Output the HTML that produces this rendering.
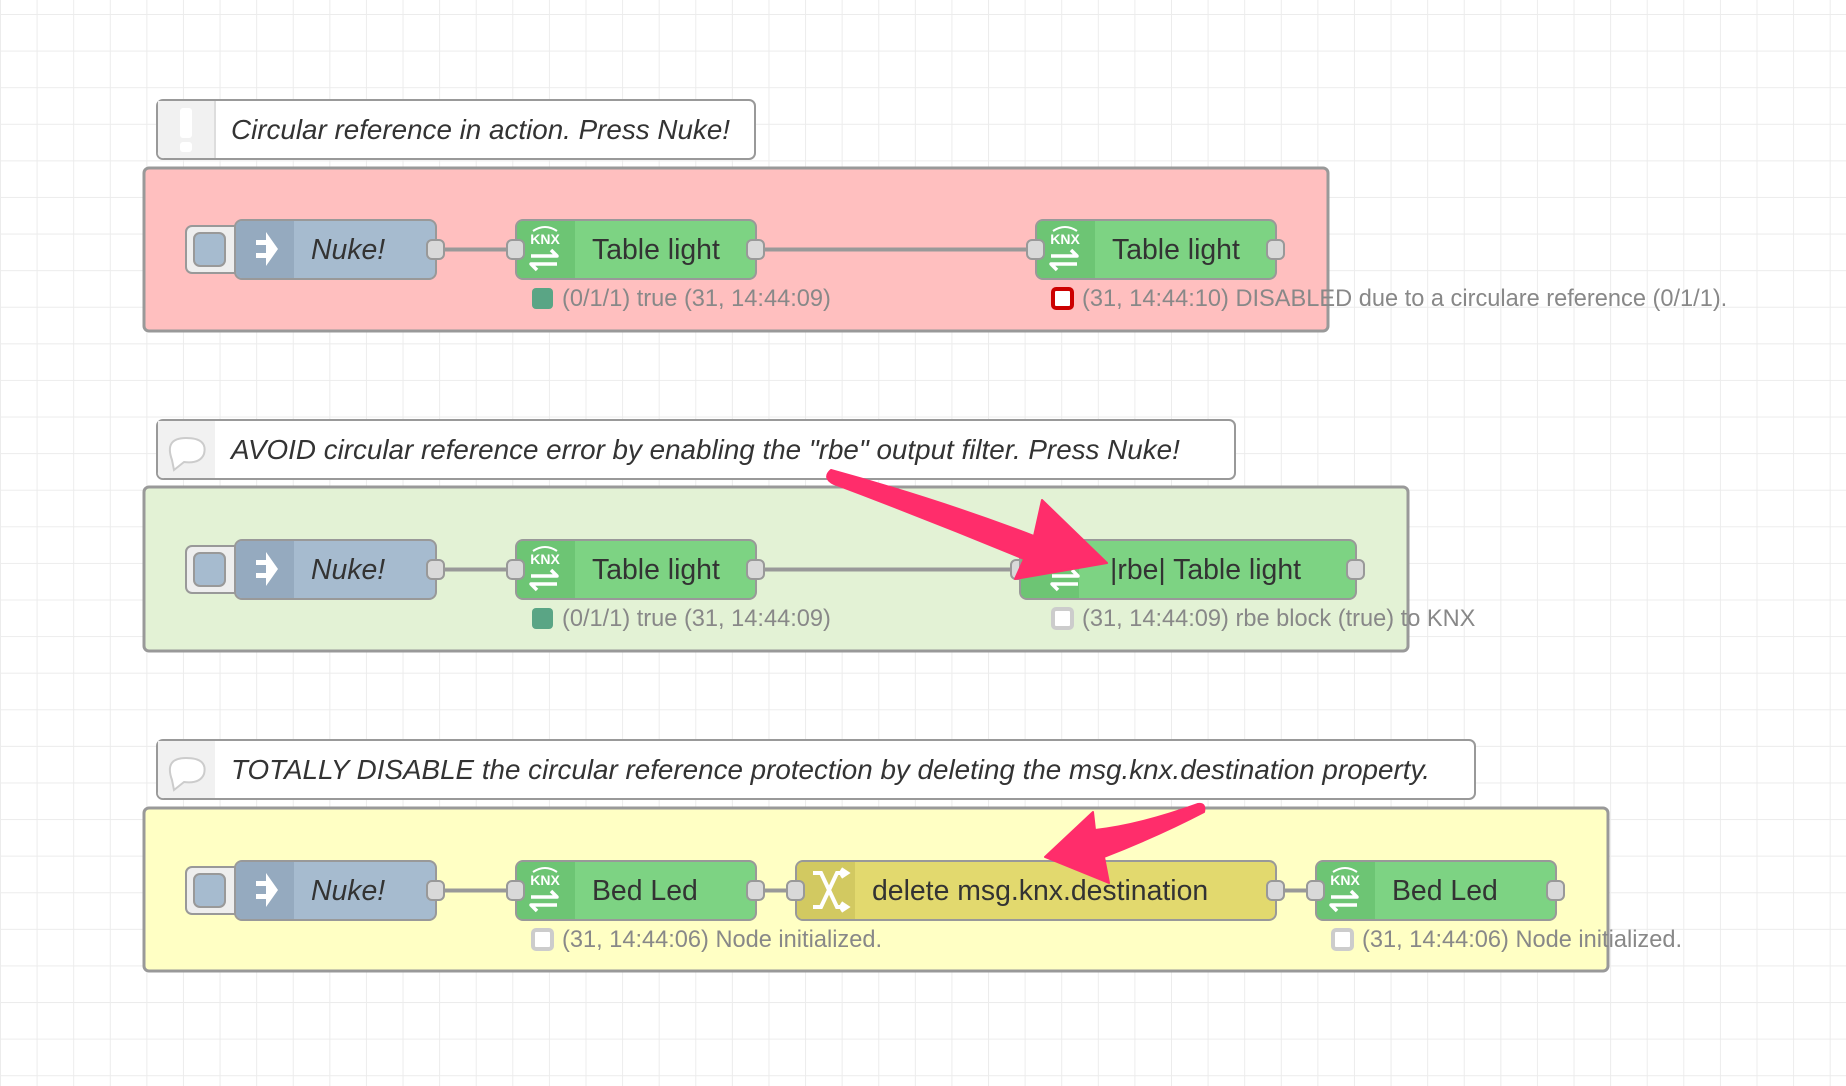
<!DOCTYPE html>
<html><head><meta charset="utf-8"><style>
html,body{margin:0;padding:0;}
body{width:1846px;height:1086px;overflow:hidden;background:#fff;
background-image:linear-gradient(#ececec 1px,transparent 1px),linear-gradient(90deg,#ececec 1px,transparent 1px);
background-size:36.6px 36.6px;background-position:0 14px;}
svg{position:absolute;left:0;top:0;font-family:"Liberation Sans",sans-serif;}
.lbl{font-size:28.4px;fill:#333;}
.cm{font-size:27.8px;fill:#333;font-style:italic;}
.st{font-size:23.6px;fill:#888;}
.port{fill:#d9d9d9;stroke:#999;stroke-width:2;}
.wire{stroke:#999;stroke-width:4;fill:none;}
</style></head><body>
<svg width="1846" height="1086" viewBox="0 0 1846 1086">
<defs>
<g id="knx">
<text x="29" y="24" font-size="14" font-weight="bold" fill="#fff" text-anchor="middle" font-family="Liberation Sans,sans-serif">KNX</text>
<path d="M17 11 Q29 3 41 11" stroke="#fff" stroke-width="2" fill="none"/>
<path d="M15 36 h26 l-6 -6 M41 44 h-26 l6 6" stroke="#fff" stroke-width="3.5" fill="none" stroke-linejoin="round"/>
</g>
<g id="injicon">
<path d="M20 20 h10 v-8 l12 17 l-12 17 v-8 h-10 v-5 h10 v-8 h-10z" fill="#fff"/>
</g>
<path id="bubble" d="M172 460 q-8 -22 14 -22 q22 0 18 16 q-4 10 -20 8 l-10 8 z" fill="#fff" stroke="#ccc" stroke-width="2"/>
</defs>

<!-- Comment 1 -->
<rect x="157" y="100" width="598" height="59" rx="6" fill="#fff" stroke="#999" stroke-width="2"/>
<path d="M158 101 h57 v57 h-51 a5 5 0 0 1 -6 -6z" fill="#f1f1f1"/>
<line x1="215" y1="101" x2="215" y2="158" stroke="#ddd" stroke-width="2"/>
<rect x="180" y="108" width="12" height="30" rx="3" fill="#fff"/><rect x="180" y="142" width="12" height="10" rx="3" fill="#fff"/>
<text class="cm" x="231" y="139">Circular reference in action. Press Nuke!</text>

<!-- Group 1 -->
<rect x="144" y="168" width="1184" height="163" rx="5" fill="#ffbfbf" stroke="#999" stroke-width="3"/>

<!-- Comment 2 -->
<rect x="157" y="420" width="1078" height="59" rx="6" fill="#fff" stroke="#999" stroke-width="2"/>
<path d="M158 421 h57 v57 h-51 a5 5 0 0 1 -6 -6z" fill="#f1f1f1"/>
<use href="#bubble" x="0" y="0"/>
<text class="cm" x="231" y="459">AVOID circular reference error by enabling the "rbe" output filter. Press Nuke!</text>

<!-- Group 2 -->
<rect x="144" y="487" width="1264" height="164" rx="5" fill="#e3f2d5" stroke="#999" stroke-width="3"/>

<!-- Comment 3 -->
<rect x="157" y="740" width="1318" height="59" rx="6" fill="#fff" stroke="#999" stroke-width="2"/>
<path d="M158 741 h57 v57 h-51 a5 5 0 0 1 -6 -6z" fill="#f1f1f1"/>
<use href="#bubble" x="0" y="320"/>
<text class="cm" x="231" y="779">TOTALLY DISABLE the circular reference protection by deleting the msg.knx.destination property.</text>

<!-- Group 3 -->
<rect x="144" y="808" width="1464" height="163" rx="5" fill="#ffffc4" stroke="#999" stroke-width="3"/>

<!-- Row 1 -->
<g transform="translate(0,220)">
<line class="wire" x1="443" y1="29.5" x2="509" y2="29.5"/>
<line class="wire" x1="763" y1="29.5" x2="1029" y2="29.5"/>
<rect x="186" y="6" width="60" height="47" rx="6" fill="#eee" stroke="#999" stroke-width="2"/>
<rect x="194" y="13" width="31" height="33" rx="6" fill="#a6bbcf" stroke="#999" stroke-width="2"/>
<rect x="235" y="0" width="201" height="59" rx="7" fill="#a6bbcf" stroke="#999" stroke-width="2"/>
<path d="M236 7 a6 6 0 0 1 6 -6 h52 v57 h-52 a6 6 0 0 1 -6 -6z" fill="#95aabf"/>
<use href="#injicon" x="236" y="0"/>
<text class="lbl" x="311" y="39" font-style="italic">Nuke!</text>
<rect class="port" x="427" y="20" width="17" height="19" rx="5"/>
<rect x="516" y="0" width="240" height="59" rx="7" fill="#7dd383" stroke="#999" stroke-width="2"/>
<path d="M517 7 a6 6 0 0 1 6 -6 h52 v57 h-52 a6 6 0 0 1 -6 -6z" fill="#6dc574"/>
<use href="#knx" x="516" y="0"/>
<text class="lbl" x="592" y="39">Table light</text>
<rect class="port" x="507" y="20" width="17" height="19" rx="5"/>
<rect class="port" x="747" y="20" width="17" height="19" rx="5"/>
<rect x="1036" y="0" width="240" height="59" rx="7" fill="#7dd383" stroke="#999" stroke-width="2"/>
<path d="M1037 7 a6 6 0 0 1 6 -6 h52 v57 h-52 a6 6 0 0 1 -6 -6z" fill="#6dc574"/>
<use href="#knx" x="1036" y="0"/>
<text class="lbl" x="1112" y="39">Table light</text>
<rect class="port" x="1027" y="20" width="17" height="19" rx="5"/>
<rect class="port" x="1267" y="20" width="17" height="19" rx="5"/>
<rect x="532" y="68" width="21" height="21" rx="4" fill="#5aa585"/>
<text class="st" x="562" y="86">(0/1/1) true (31, 14:44:09)</text>
<rect x="1053" y="69" width="19" height="19" rx="3" fill="#fff" stroke="#c00" stroke-width="4"/>
<text class="st" x="1082" y="86">(31, 14:44:10) DISABLED due to a circulare reference (0/1/1).</text>
</g>

<!-- Row 2 -->
<g transform="translate(0,540)">
<line class="wire" x1="443" y1="29.5" x2="509" y2="29.5"/>
<line class="wire" x1="763" y1="29.5" x2="1029" y2="29.5"/>
<rect x="186" y="6" width="60" height="47" rx="6" fill="#eee" stroke="#999" stroke-width="2"/>
<rect x="194" y="13" width="31" height="33" rx="6" fill="#a6bbcf" stroke="#999" stroke-width="2"/>
<rect x="235" y="0" width="201" height="59" rx="7" fill="#a6bbcf" stroke="#999" stroke-width="2"/>
<path d="M236 7 a6 6 0 0 1 6 -6 h52 v57 h-52 a6 6 0 0 1 -6 -6z" fill="#95aabf"/>
<use href="#injicon" x="236" y="0"/>
<text class="lbl" x="311" y="39" font-style="italic">Nuke!</text>
<rect class="port" x="427" y="20" width="17" height="19" rx="5"/>
<rect x="516" y="0" width="240" height="59" rx="7" fill="#7dd383" stroke="#999" stroke-width="2"/>
<path d="M517 7 a6 6 0 0 1 6 -6 h52 v57 h-52 a6 6 0 0 1 -6 -6z" fill="#6dc574"/>
<use href="#knx" x="516" y="0"/>
<text class="lbl" x="592" y="39">Table light</text>
<rect class="port" x="507" y="20" width="17" height="19" rx="5"/>
<rect class="port" x="747" y="20" width="17" height="19" rx="5"/>
<rect class="port" x="1011" y="20" width="17" height="19" rx="5"/>
<rect x="1020" y="0" width="336" height="59" rx="7" fill="#7dd383" stroke="#999" stroke-width="2"/>
<path d="M1021 7 a6 6 0 0 1 6 -6 h52 v57 h-52 a6 6 0 0 1 -6 -6z" fill="#6dc574"/>
<use href="#knx" x="1037" y="0"/>
<text class="lbl" x="1110" y="39">|rbe| Table light</text>
<rect class="port" x="1347" y="20" width="17" height="19" rx="5"/>
<rect x="532" y="68" width="21" height="21" rx="4" fill="#5aa585"/>
<text class="st" x="562" y="86">(0/1/1) true (31, 14:44:09)</text>
<rect x="1053" y="69" width="19" height="19" rx="3" fill="#fff" stroke="#ccc" stroke-width="4"/>
<text class="st" x="1082" y="86">(31, 14:44:09) rbe block (true) to KNX</text>
</g>

<!-- Row 3 -->
<g transform="translate(0,861)">
<line class="wire" x1="443" y1="29.5" x2="509" y2="29.5"/>
<line class="wire" x1="763" y1="29.5" x2="789" y2="29.5"/>
<line class="wire" x1="1283" y1="29.5" x2="1309" y2="29.5"/>
<rect x="186" y="6" width="60" height="47" rx="6" fill="#eee" stroke="#999" stroke-width="2"/>
<rect x="194" y="13" width="31" height="33" rx="6" fill="#a6bbcf" stroke="#999" stroke-width="2"/>
<rect x="235" y="0" width="201" height="59" rx="7" fill="#a6bbcf" stroke="#999" stroke-width="2"/>
<path d="M236 7 a6 6 0 0 1 6 -6 h52 v57 h-52 a6 6 0 0 1 -6 -6z" fill="#95aabf"/>
<use href="#injicon" x="236" y="0"/>
<text class="lbl" x="311" y="39" font-style="italic">Nuke!</text>
<rect class="port" x="427" y="20" width="17" height="19" rx="5"/>
<rect x="516" y="0" width="240" height="59" rx="7" fill="#7dd383" stroke="#999" stroke-width="2"/>
<path d="M517 7 a6 6 0 0 1 6 -6 h52 v57 h-52 a6 6 0 0 1 -6 -6z" fill="#6dc574"/>
<use href="#knx" x="516" y="0"/>
<text class="lbl" x="592" y="39">Bed Led</text>
<rect class="port" x="507" y="20" width="17" height="19" rx="5"/>
<rect class="port" x="747" y="20" width="17" height="19" rx="5"/>
<rect x="796" y="0" width="480" height="59" rx="7" fill="#e2d96e" stroke="#999" stroke-width="2"/>
<path d="M797 7 a6 6 0 0 1 6 -6 h52 v57 h-52 a6 6 0 0 1 -6 -6z" fill="#d2c961"/>
<path d="M813 12 h8 l16 34 h8 M813 46 h8 l16 -34 h8 M841 8 l6 4 l-6 4 M841 42 l6 4 l-6 4" stroke="#fff" stroke-width="4" fill="none"/>
<text class="lbl" x="872" y="39">delete msg.knx.destination</text>
<rect class="port" x="787" y="20" width="17" height="19" rx="5"/>
<rect class="port" x="1267" y="20" width="17" height="19" rx="5"/>
<rect x="1316" y="0" width="240" height="59" rx="7" fill="#7dd383" stroke="#999" stroke-width="2"/>
<path d="M1317 7 a6 6 0 0 1 6 -6 h52 v57 h-52 a6 6 0 0 1 -6 -6z" fill="#6dc574"/>
<use href="#knx" x="1316" y="0"/>
<text class="lbl" x="1392" y="39">Bed Led</text>
<rect class="port" x="1307" y="20" width="17" height="19" rx="5"/>
<rect class="port" x="1547" y="20" width="17" height="19" rx="5"/>
<rect x="533" y="69" width="19" height="19" rx="3" fill="#fff" stroke="#ccc" stroke-width="4"/>
<text class="st" x="562" y="86">(31, 14:44:06) Node initialized.</text>
<rect x="1333" y="69" width="19" height="19" rx="3" fill="#fff" stroke="#ccc" stroke-width="4"/>
<text class="st" x="1362" y="86">(31, 14:44:06) Node initialized.</text>
</g>

<!-- Pink arrows -->
<path d="M831 470 Q940 500 1034 536 L1042 500 L1107 563 L1015 579 L1024 559 Q930 520 834 484 Q822 478 831 470Z" fill="#ff2d6b" stroke="#ff2d6b" stroke-width="2" stroke-linejoin="round"/>
<path d="M1198 804 Q1140 825 1095 830 L1093 812 L1045 857 L1109 883 L1104 857 Q1160 835 1204 812 Q1206 803 1198 804Z" fill="#ff2d6b" stroke="#ff2d6b" stroke-width="2" stroke-linejoin="round"/>
</svg>
</body></html>
